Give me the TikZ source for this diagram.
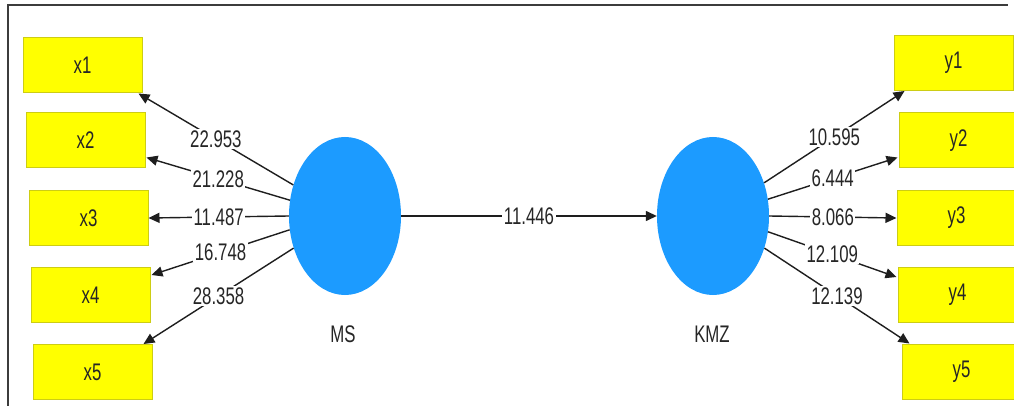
\documentclass[tikz,border=0pt]{standalone}
\usepackage{fontspec}
\setmainfont[FakeStretch=0.7]{Liberation Sans}
\usetikzlibrary{shapes.geometric,arrows.meta,calc}
\definecolor{boxyellow}{RGB}{255,255,0}
\definecolor{boxedge}{RGB}{205,205,20}
\definecolor{lvblue}{RGB}{28,155,255}
\definecolor{lineclr}{RGB}{30,30,30}
\definecolor{frameclr}{RGB}{60,60,60}
\begin{document}
\begin{tikzpicture}[x=1pt,y=-1pt,
  ind/.style={draw=boxedge, line width=1pt, fill=boxyellow, minimum width=119pt, minimum height=55pt, inner sep=0pt, font=\fontsize{24}{27}\selectfont, text=black!85},
  lv/.style={ellipse, fill=lvblue, minimum width=112pt, minimum height=158pt, inner sep=0pt},
  lvname/.style={font=\fontsize{24}{27}\selectfont, text=black!85},
  conn/.style={draw=lineclr, line width=1.4pt, -{Triangle[length=11pt,width=10pt]}},
  wt/.style={fill=white, inner sep=1.5pt, font=\fontsize{24}{27}\selectfont, text=black!85}]
\useasboundingbox (0,0) rectangle (1014,406);
\clip (0,0) rectangle (1014,406);
\fill[white] (0,0) rectangle (1014,406);
\draw[frameclr, line width=1.3pt] (8,406) -- (8,5) -- (1008,5);

% left indicators
\node[ind] (x1) at (82.5,65.5) {x1};
\node[ind] (x2) at (85.5,140.5) {x2};
\node[ind] (x3) at (88.5,218) {x3};
\node[ind] (x4) at (90.5,295) {x4};
\node[ind] (x5) at (92.5,372) {x5};
% right indicators
\node[ind] (y1) at (953.5,63) {y1};
\node[ind] (y2) at (958.5,140.5) {y2};
\node[ind] (y3) at (956.5,218) {y3};
\node[ind] (y4) at (957.5,295) {y4};
\node[ind] (y5) at (961.5,371.5) {y5};
% latent variables
\node[lv] (MS) at (345,216) {};
\node[lv] (KMZ) at (713,216) {};
\node[lvname] (MSl) at (343,334) {MS};
\node[lvname] (KMZl) at (712,334) {KMZ};

% outer loadings MS
\path[conn] (MS.149) -- node[wt] {22.953} ($(x1.south east)+(-4,0)$);
\path[conn] (MS.164) -- node[wt] {21.228} ($(x2.south east)+(1,-11)$);
\path[conn] (MS.180) -- node[wt] {11.487} (x3.east);
\path[conn] (MS.194) -- node[wt] {16.748} ($(x4.north east)+(1,8)$);
\path[conn] (MS.212) -- node[wt] {28.358} ($(x5.north east)+(-9,0)$);
% outer loadings KMZ
\path[conn] (KMZ.33) -- node[wt] {10.595} ($(y1.south west)+(11,0)$);
\path[conn] (KMZ.17) -- node[wt] {6.444} ($(y2.south west)+(-1,-11)$);
\path[conn] (KMZ.0) -- node[wt] {8.066} (y3.west);
\path[conn] (KMZ.-16) -- node[wt] {12.109} ($(y4.north west)+(-1,10)$);
\path[conn] (KMZ.-32) -- node[wt] {12.139} ($(y5.north west)+(8,0)$);
% structural path
\path[conn] (MS.east) -- node[wt] {11.446} (KMZ.west);
\end{tikzpicture}
\end{document}
